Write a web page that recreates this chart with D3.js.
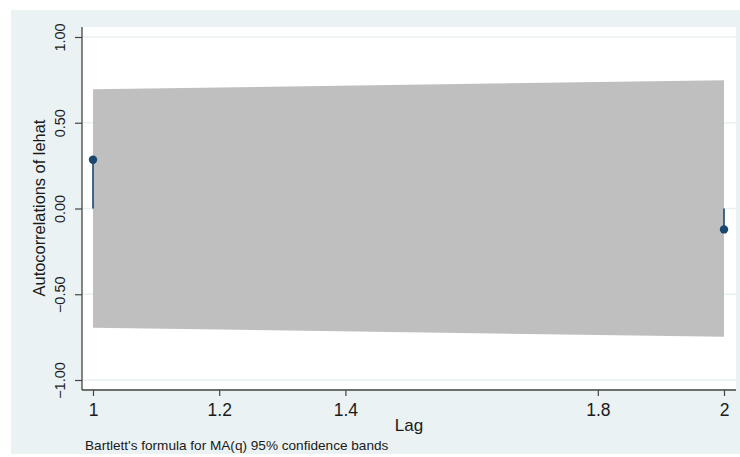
<!DOCTYPE html>
<html><head><meta charset="utf-8">
<script src="https://cdn.jsdelivr.net/npm/d3@7"></script>
<style>body{margin:0;background:#fff}svg{display:block}text{font-family:"Liberation Sans",Arial,sans-serif;fill:#1a1a1a}</style>
</head><body><svg id="c" width="740" height="457"></svg>
<script>
const lags = [1, 2];
const autocorr = [0.284, -0.122];
const bandHalf = [0.695, 0.748];
const xTicks = [1, 1.2, 1.4, 1.8, 2];
const yTicks = [-1, -0.5, 0, 0.5, 1];
const yTitle = "Autocorrelations of lehat";
const xTitle = "Lag";
const note = "Bartlett's formula for MA(q) 95% confidence bands";

const svg = d3.select("#c");
svg.append("rect").attr("x",11).attr("y",10).attr("width",729).attr("height",444).attr("fill","#eaf2f3");
const pl = 82, pr = 736, pt = 27, pb = 390;
svg.append("rect").attr("x",pl).attr("y",pt).attr("width",pr-pl).attr("height",pb-pt-1).attr("fill","#fff");

const x = d3.scaleLinear().domain([1,2]).range([93,724]);
const y = d3.scaleLinear().domain([-1,1]).range([380,37]);

// gridlines
svg.append("g").selectAll("line").data(yTicks).join("line")
  .attr("x1",pl).attr("x2",pr).attr("y1",d=>y(d)).attr("y2",d=>y(d))
  .attr("stroke","#e8f0f2").attr("stroke-width",1.5);

// band
const bandData = lags.map((l,i)=>({l, h: bandHalf[i]}));
svg.append("path").datum(bandData)
  .attr("d", d3.area().x(d=>x(d.l)).y0(d=>y(-d.h)).y1(d=>y(d.h)))
  .attr("fill","#bfbfbf");

// spikes
const pts = lags.map((l,i)=>({l, v: autocorr[i]}));
svg.append("g").selectAll("line").data(pts).join("line")
  .attr("x1",d=>x(d.l)).attr("x2",d=>x(d.l)).attr("y1",y(0)).attr("y2",d=>y(d.v))
  .attr("stroke","#1a476f").attr("stroke-width",1.6);
svg.append("g").selectAll("circle").data(pts).join("circle")
  .attr("cx",d=>x(d.l)).attr("cy",d=>y(d.v)).attr("r",4.2).attr("fill","#1a476f");

// y axis
const ya = svg.append("g").attr("transform",`translate(${pl},0)`)
  .call(d3.axisLeft(y).tickValues(yTicks).tickSize(7).tickFormat(d3.format(".2f")));
ya.select(".domain").attr("d",`M0,${pt}V${pb}`).attr("stroke","#444").attr("stroke-width",1.3);
ya.selectAll(".tick line").attr("stroke","#444").attr("stroke-width",1.2);
ya.selectAll(".tick text").attr("transform","rotate(-90)").attr("x",0).attr("y",-17)
  .attr("dy",0).attr("text-anchor","middle").style("font-size","14.5px").style("font-family",'"Liberation Sans",Arial,sans-serif').attr("fill","#1a1a1a");

// x axis
const xa = svg.append("g").attr("transform",`translate(0,${pb})`)
  .call(d3.axisBottom(x).tickValues(xTicks).tickSize(6).tickFormat(d3.format("")));
xa.select(".domain").attr("d",`M${pl},0H${pr}`).attr("stroke","#444").attr("stroke-width",1.3);
xa.selectAll(".tick line").attr("stroke","#444").attr("stroke-width",1.2);
xa.selectAll(".tick text").attr("y",26).attr("dy",0).style("font-size","17.5px")
  .style("font-family",'"Liberation Sans",Arial,sans-serif').attr("fill","#1a1a1a");

svg.append("text").attr("transform","translate(45,208) rotate(-90)").attr("text-anchor","middle")
  .style("font-size","16.4px").text(yTitle);
svg.append("text").attr("x",409).attr("y",431).attr("text-anchor","middle").style("font-size","17px").text(xTitle);
svg.append("text").attr("x",85).attr("y",450).style("font-size","13.6px").text(note);
</script></body></html>
